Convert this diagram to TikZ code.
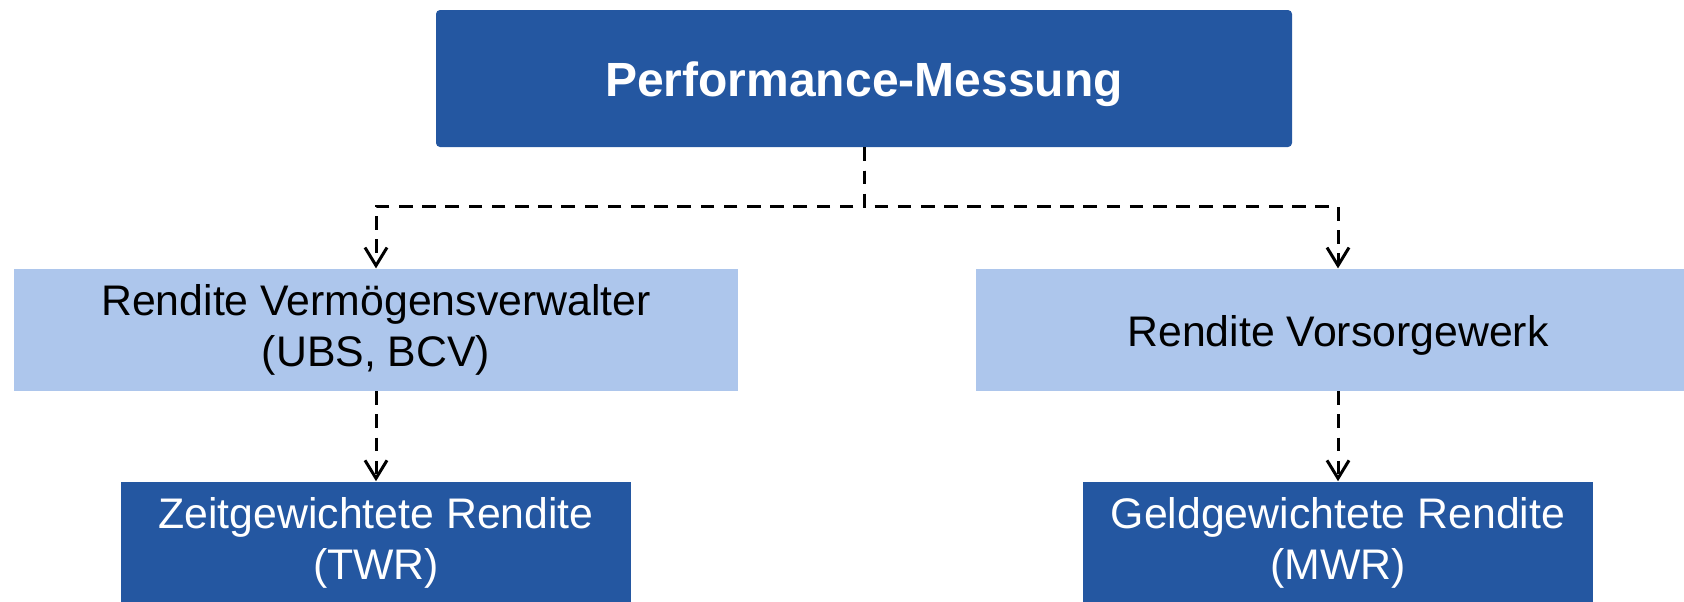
\documentclass[tikz,border=0pt]{standalone}
\usepackage{fontspec}
\setmainfont{Liberation Sans}
\usetikzlibrary{positioning, arrows.meta}

\definecolor{darkblue}{RGB}{36,87,161}
\definecolor{lightblue}{RGB}{173,198,236}

\begin{document}
\begin{tikzpicture}[>={Straight Barb[length=9pt,width=11pt]},
    every node/.style={font=\fontsize{21.4}{25.5}\selectfont, align=center, inner sep=0pt,
        execute at begin node={\rule{0pt}{0.98em}}}, % push text a bit down
    topbox/.style={fill=darkblue, text=white, minimum width=428pt, minimum height=68.5pt, rounded corners=2pt, font=\fontsize{24}{29}\selectfont\bfseries},
    midbox/.style={fill=lightblue, text=black, minimum width=362pt, minimum height=61pt},
    lowbox/.style={fill=darkblue, text=white, minimum width=255pt, minimum height=61pt},
    conn/.style={->, line width=1.5pt, dash pattern=on 6.8pt off 4.8pt}
]
\useasboundingbox (0,0) rectangle (842pt,-300.5pt);

% Top node
\node (perf) [topbox] at (432pt,-39.25pt) {Performance-Messung};

% Second row
\node (verwalter) [midbox, below=60.5pt of perf, xshift=-244pt] {Rendite Vermögensverwalter\\(UBS, BCV)};
\node (vorsorge) [midbox, below=60.5pt of perf, xshift=237pt] {Rendite Vorsorgewerk};

% Bottom row
\node (twr) [lowbox, below=45pt of verwalter] {Zeitgewichtete Rendite\\(TWR)};
\node (mwr) [lowbox, below=45pt of vorsorge] {Geldgewichtete Rendite\\(MWR)};

% Connection arrows
\draw[conn] (perf.south) -- ++(0,-29.5pt) -| (verwalter.north);
\draw[conn] (perf.south) -- ++(0,-29.5pt) -| (vorsorge.north);
\draw[conn] (verwalter) -- (twr);
\draw[conn] (vorsorge) -- (mwr);

\end{tikzpicture}
\end{document}
